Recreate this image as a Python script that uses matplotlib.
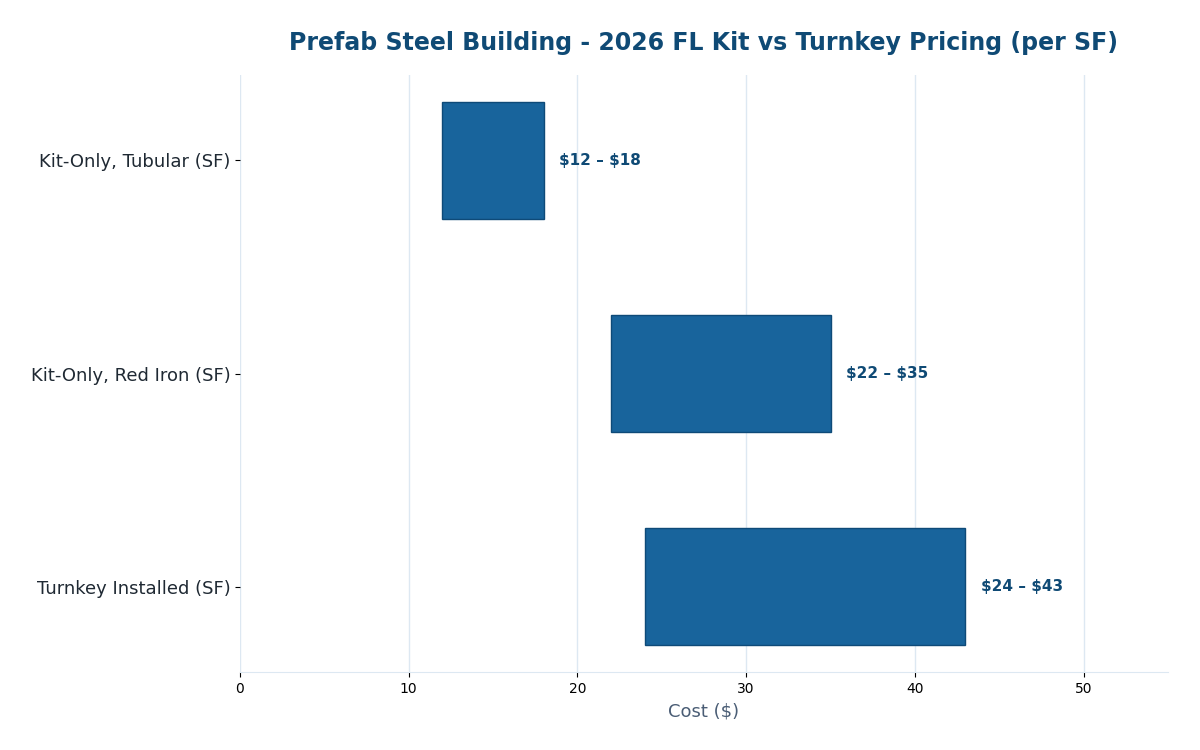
import matplotlib
matplotlib.use("Agg")
import matplotlib.pyplot as plt

categories = ["Kit-Only, Tubular (SF)", "Kit-Only, Red Iron (SF)", "Turnkey Installed (SF)"]
low = [12, 22, 24]
high = [18, 35, 43]
labels = [r"\$12 – \$18", r"\$22 – \$35", r"\$24 – \$43"]

fig = plt.figure(figsize=(12, 7.5), dpi=100)
ax = fig.add_axes([0.2, 0.104, 0.7733, 0.796])

y = list(range(len(categories)))
widths = [h - l for l, h in zip(low, high)]
ax.barh(y, widths, left=low, height=0.55, color="#18649c", edgecolor="#0e4a78", linewidth=1, zorder=3)
for yi, h, lab in zip(y, high, labels):
    ax.text(h + 0.9, yi, lab, va="center", ha="left", fontsize=11, fontweight="bold", color="#0f4a75")

ax.set_yticks(y)
ax.set_yticklabels(categories, fontsize=13, color="#1f2933")
ax.set_ylim(2.4, -0.4)
ax.set_xlim(0, 55)
ax.set_xticks([0, 10, 20, 30, 40, 50])
ax.tick_params(axis="x", labelsize=10, colors="black")
ax.xaxis.grid(True, color="#dde8f2", linewidth=1, zorder=0)
ax.set_axisbelow(True)
for s in ["top", "right", "left"]:
    ax.spines[s].set_visible(False)
ax.spines["bottom"].set_color("#dde8f2")
ax.set_xlabel(r"Cost (\$)", fontsize=13, color="#4a5d75", labelpad=5)
ax.set_title("Prefab Steel Building - 2026 FL Kit vs Turnkey Pricing (per SF)",
             fontsize=17, fontweight="bold", color="#0f4a75", pad=18)

fig.savefig("out.png", dpi=100)
